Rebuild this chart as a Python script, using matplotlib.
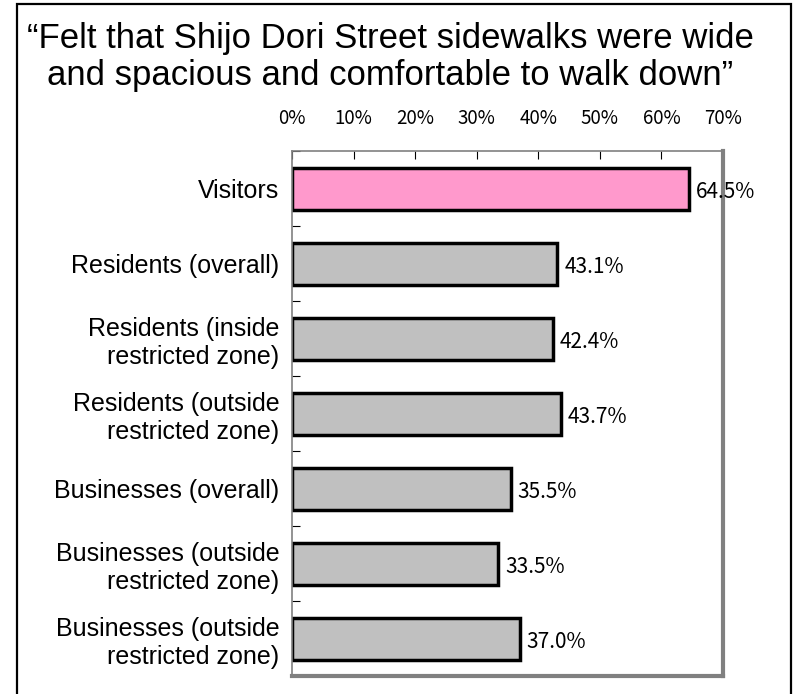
import matplotlib.pyplot as plt
from matplotlib.patches import Rectangle

# data
categories = ['Visitors', 'Residents (overall)', 'Residents (inside\nrestricted zone)',
              'Residents (outside\nrestricted zone)', 'Businesses (overall)',
              'Businesses (outside\nrestricted zone)', 'Businesses (outside\nrestricted zone)']
values = [64.5, 43.1, 42.4, 43.7, 35.5, 33.5, 37.0]
bar_colors = ['#ff99cc', '#c0c0c0', '#c0c0c0', '#c0c0c0', '#c0c0c0', '#c0c0c0', '#c0c0c0']
xticks = [0, 10, 20, 30, 40, 50, 60, 70]

title_lines = ['\u201cFelt that Shijo Dori Street sidewalks were wide',
               'and spacious and comfortable to walk down\u201d']

plt.rcParams['font.family'] = ['Liberation Sans', 'DejaVu Sans']
num_font = ['Noto Sans CJK JP', 'DejaVu Sans']

fig = plt.figure(figsize=(7.96, 6.94), dpi=100)
# outer frame (bottom edge runs off the canvas in the reference)
fig.patches.append(Rectangle((17 / 796, -0.02), (791 - 17) / 796, 1.02 - 4 / 694,
                             transform=fig.transFigure, fill=False,
                             edgecolor='black', linewidth=1.6))

fig.text(390 / 796, 1 - 48 / 694, title_lines[0], ha='center', va='baseline', fontsize=25)
fig.text(390 / 796, 1 - 85 / 694, title_lines[1], ha='center', va='baseline', fontsize=25)

ax = fig.add_axes([292 / 796, 1 - 676 / 694, 431 / 796, 525 / 694])
y = list(range(len(categories)))
ax.barh(y, values, height=0.56, color=bar_colors, edgecolor='black', linewidth=2.5)
ax.set_ylim(len(categories) - 0.5, -0.5)
ax.set_xlim(0, 70)

for yi, v in zip(y, values):
    ax.text(v + 1.1, yi + 0.05, f'{v:.1f}%', va='center', ha='left', fontsize=15, family=num_font)

ax.xaxis.tick_top()
ax.set_xticks(xticks)
ax.set_xticklabels([f'{t}%' for t in xticks], fontsize=13.5, family=num_font)
ax.tick_params(axis='x', direction='in', length=6, pad=16, color='black')

ax.set_yticks([i - 0.5 for i in range(len(categories) + 1)])
ax.set_yticklabels([''] * (len(categories) + 1))
ax.set_yticks(y, minor=True)
ax.set_yticklabels(categories, minor=True, fontsize=18, ha='right', multialignment='right',
                   linespacing=1.2)
ax.tick_params(axis='y', which='major', direction='in', length=6, color='black')
ax.tick_params(axis='y', which='minor', length=0, pad=9)

for s in ['top', 'left']:
    ax.spines[s].set_color('#808080')
    ax.spines[s].set_linewidth(1.2)
for s in ['right', 'bottom']:
    ax.spines[s].set_color('#808080')
    ax.spines[s].set_linewidth(3)

fig.savefig('out.png', dpi=100)
